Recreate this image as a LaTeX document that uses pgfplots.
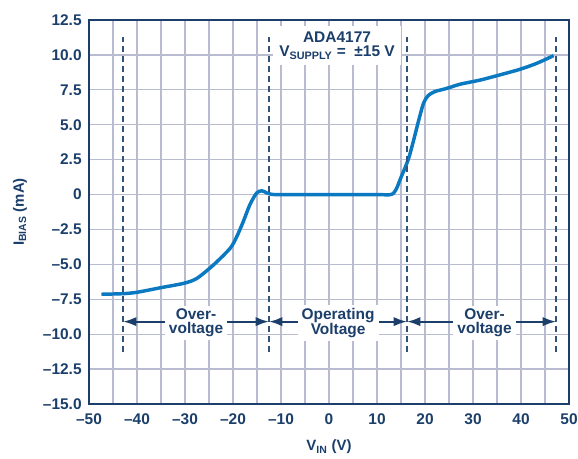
\documentclass[border=0pt]{standalone}
\usepackage{fontspec}
\setmainfont{Liberation Sans}
\usepackage{pgfplots}
\pgfplotsset{compat=1.18}
\usetikzlibrary{arrows.meta}

\definecolor{navy}{HTML}{1B3F6A}
\definecolor{gridc}{HTML}{B9BBD0}
\definecolor{curve}{HTML}{0A79C2}
\definecolor{dashc}{HTML}{2F5379}

\newcommand{\lblfont}{\fontsize{11.6}{10.6}\selectfont\bfseries}
\tikzset{regarrow/.style={navy, line width=1.6pt,
  {Latex[length=10pt,width=7pt]}-{Latex[length=10pt,width=7pt]}}}

% bias current versus input voltage
\pgfplotstableread{
x      y
-47.4  -7.14
-43.0  -7.10
-40.0  -7.00
-35.2  -6.68
-30.3  -6.36
-27.6  -6.02
-24.1  -5.05
-20.6  -3.85
-19.2  -3.00
-17.85 -1.93
-16.5  -0.74
-15.1   0.10
-14.0   0.27
-13.0   0.12
-12.0   0.02
-10.9   0.00
-5.0    0.00
0.0     0.00
5.0     0.00
10.0    0.00
12.5   -0.02
13.4    0.08
14.1    0.45
14.9    1.15
15.7    1.80
16.6    2.60
17.6    3.85
18.6    5.20
19.7    6.55
20.7    7.10
22.1    7.38
24.5    7.60
27.3    7.90
31.5    8.20
35.6    8.57
39.8    8.97
43.3    9.40
46.8    9.95
}\ibias

\begin{document}
\begin{tikzpicture}[x=1pt,y=1pt]
\useasboundingbox (0,0) rectangle (433.5,343.5);
\begin{axis}[
  at={(66.75pt,40.5pt)}, anchor=south west,
  scale only axis, width=360pt, height=288pt,
  xmin=-50, xmax=50, ymin=-15, ymax=12.5,
  xtick={-50,-40,-30,-20,-10,0,10,20,30,40,50},
  xticklabels={–50,–40,–30,–20,–10,0,10,20,30,40,50},
  minor xtick={-45,-35,-25,-15,-5,5,15,25,35,45},
  ytick={-15,-12.5,-10,-7.5,-5,-2.5,0,2.5,5,7.5,10,12.5},
  yticklabels={–15.0,–12.5,–10.0,–7.5,–5.0,–2.5,0,2.5,5.0,7.5,10.0,12.5},
  grid=both,
  major grid style={gridc, line width=1pt},
  minor grid style={gridc, line width=1pt},
  major tick length=0pt, minor tick length=0pt,
  axis line style={navy, line width=1.5pt},
  ticklabel style={font=\lblfont, text=navy},
  xticklabel style={yshift=-4pt},
  yticklabel style={xshift=-2pt},
  xlabel={V\textsubscript{IN} (V)},
  ylabel={I\textsubscript{BIAS} (mA)},
  label style={font=\fontsize{11.2}{13}\selectfont\bfseries, text=navy},
  xlabel style={at={(axis description cs:0.5,-0.112)}, anchor=center},
  ylabel style={at={(axis description cs:-0.1437,0.5)}, anchor=center, rotate=0},
]
\addplot[curve, line width=2.6pt, smooth, tension=0.45] table[x=x, y=y] {\ibias};

% region boundaries
\foreach \xv in {-42.9,-12.5,16.25,47.3}{
  \edef\tmp{\noexpand\draw[dashc, line width=0.9pt, dash pattern=on 5pt off 2.5pt]
    (\xv,-11.3) -- (\xv,11.3);}
  \tmp
}

% region arrows
\draw[regarrow] (-42.9,-9.1) -- (-12.5,-9.1);
\draw[regarrow] (-12.5,-9.1) -- (16.25,-9.1);
\draw[regarrow] (16.25,-9.1) -- (47.3,-9.1);

\node[fill=white, inner xsep=3pt, inner ysep=2pt, align=center, text=navy, font=\lblfont]
  at (-27.7,-9.2) {Over-\\voltage};
\node[fill=white, inner xsep=3pt, inner ysep=2pt, align=center, text=navy, font=\lblfont]
  at (1.9,-9.2) {Operating\\Voltage};
\node[fill=white, inner xsep=3pt, inner ysep=2pt, align=center, text=navy, font=\lblfont]
  at (32.4,-9.2) {Over-\\voltage};

% device label
\node[fill=white, minimum width=96pt, minimum height=29pt, align=center, text=navy, font=\lblfont]
  at (1.67,10.67) {ADA4177\\V\textsubscript{SUPPLY} =\ \ ±15 V};
\end{axis}
\end{tikzpicture}
\end{document}
